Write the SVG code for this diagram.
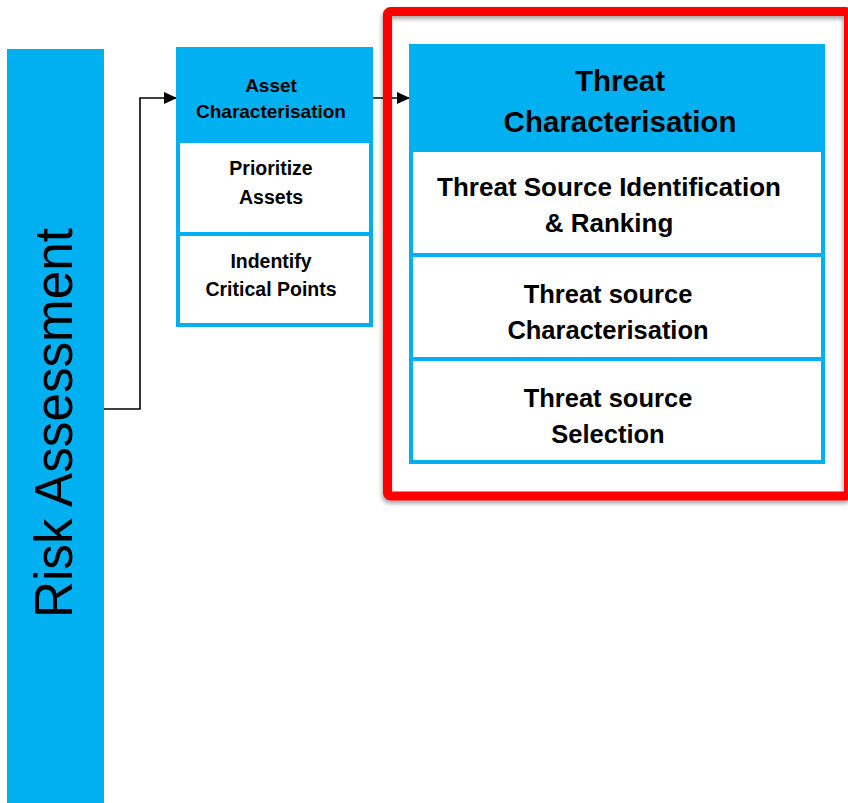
<svg xmlns="http://www.w3.org/2000/svg" width="848" height="803" viewBox="0 0 848 803">
<style>
.t{font-family:"Liberation Sans",Arial,sans-serif;font-weight:bold;fill:#000;text-anchor:middle}
.box{fill:#fff;stroke:#00B0F0;stroke-width:4}
.hdr{fill:#00B0F0}
.div{stroke:#00B0F0;stroke-width:4}
.conn{fill:none;stroke:#000;stroke-width:1.6}
</style>
<defs>
<marker id="arr" markerWidth="13" markerHeight="12" refX="12" refY="6" orient="auto" markerUnits="userSpaceOnUse">
<path d="M0,0 L13,6 L0,12 Z" fill="#000"/>
</marker>
<filter id="sh" x="-5%" y="-5%" width="110%" height="110%">
<feGaussianBlur in="SourceAlpha" stdDeviation="2"/>
<feOffset dx="-1" dy="3"/>
<feComponentTransfer><feFuncA type="linear" slope="0.35"/></feComponentTransfer>
<feMerge><feMergeNode/><feMergeNode in="SourceGraphic"/></feMerge>
</filter>
</defs>
<rect width="848" height="803" fill="#fff"/>

<g id="risk-assessment">
<rect x="7" y="49" width="97" height="754" fill="#00B0F0"/>
<text transform="translate(72,423) rotate(-90)" font-family="'Liberation Sans',Arial,sans-serif" font-size="53" text-anchor="middle" fill="#000" textLength="390" lengthAdjust="spacingAndGlyphs">Risk Assessment</text>
</g>

<g id="connectors">
<path class="conn" d="M104,409 H140 V98 H176" marker-end="url(#arr)"/>
<path class="conn" d="M372,98 H409" marker-end="url(#arr)"/>
</g>

<g id="asset-characterisation">
<rect class="box" x="178" y="49" width="193" height="276"/>
<rect class="hdr" x="176" y="47" width="197" height="96"/>
<line class="div" x1="178" y1="234" x2="371" y2="234"/>
<text class="t" font-size="19" x="271" y="91.5">Asset</text>
<text class="t" font-size="19" x="271" y="118">Characterisation</text>
<text class="t" font-size="19.5" x="271" y="175">Prioritize</text>
<text class="t" font-size="19.5" x="271" y="204">Assets</text>
<text class="t" font-size="19.5" x="271" y="268">Indentify</text>
<text class="t" font-size="19.5" x="271" y="296">Critical Points</text>
</g>

<g id="threat-frame">
<rect x="387.5" y="11.5" width="461" height="484.5" rx="3" fill="none" stroke="#FF0000" stroke-width="9" filter="url(#sh)"/>
</g>

<g id="threat-characterisation">
<rect class="box" x="411" y="46" width="412" height="416"/>
<rect class="hdr" x="409" y="44" width="416" height="108"/>
<line class="div" x1="411" y1="255" x2="823" y2="255"/>
<line class="div" x1="411" y1="359" x2="823" y2="359"/>
<text class="t" font-size="29.5" x="620" y="91">Threat</text>
<text class="t" font-size="29.5" x="620" y="132">Characterisation</text>
<text class="t" font-size="26" x="609" y="196">Threat Source Identification</text>
<text class="t" font-size="26" x="609" y="232">&amp; Ranking</text>
<text class="t" font-size="25.5" x="608" y="303">Threat source</text>
<text class="t" font-size="25.5" x="608" y="339">Characterisation</text>
<text class="t" font-size="25.5" x="608" y="407">Threat source</text>
<text class="t" font-size="25.5" x="608" y="443">Selection</text>
</g>
</svg>
